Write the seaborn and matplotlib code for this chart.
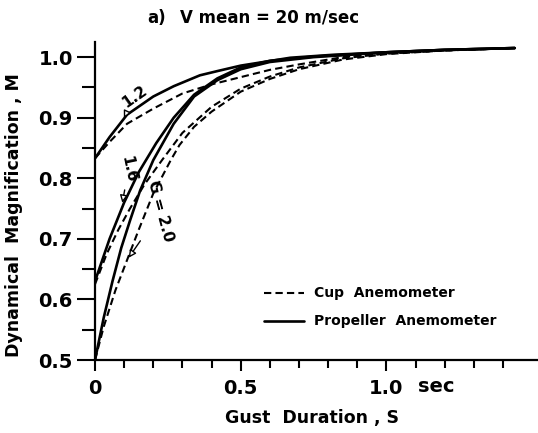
import numpy as np
import pandas as pd
import matplotlib
matplotlib.use("Agg")
import matplotlib.pyplot as plt
import seaborn as sns
from matplotlib.lines import Line2D

# Propeller anemometer (solid)
prop_x_12 = [0.0, 0.05, 0.11, 0.20, 0.27, 0.36, 0.42, 0.50, 0.67, 0.82, 1.0, 1.2, 1.44]
prop_y_12 = [0.833, 0.868, 0.905, 0.935, 0.952, 0.970, 0.977, 0.986, 0.999, 1.004, 1.008, 1.012, 1.015]
prop_x_16 = [0.0, 0.05, 0.10, 0.15, 0.21, 0.27, 0.34, 0.42, 0.50, 0.60, 0.75, 1.0, 1.2, 1.44]
prop_y_16 = [0.630, 0.700, 0.760, 0.810, 0.858, 0.900, 0.938, 0.965, 0.983, 0.994, 1.001, 1.008, 1.012, 1.015]
prop_x_20 = [0.0, 0.03, 0.06, 0.09, 0.12, 0.155, 0.20, 0.27, 0.34, 0.42, 0.50, 0.60, 0.75, 1.0, 1.2, 1.44]
prop_y_20 = [0.500, 0.570, 0.630, 0.685, 0.730, 0.780, 0.830, 0.890, 0.935, 0.962, 0.980, 0.992, 1.000, 1.008, 1.012, 1.015]

# Cup anemometer (dashed)
cup_x_12 = [0.0, 0.05, 0.11, 0.20, 0.30, 0.40, 0.50, 0.60, 0.70, 0.85, 1.0, 1.2, 1.44]
cup_y_12 = [0.833, 0.860, 0.890, 0.915, 0.940, 0.955, 0.967, 0.979, 0.988, 1.000, 1.006, 1.011, 1.015]
cup_x_16 = [0.0, 0.04, 0.08, 0.12, 0.17, 0.23, 0.30, 0.40, 0.50, 0.60, 0.70, 0.85, 1.0, 1.2, 1.44]
cup_y_16 = [0.625, 0.675, 0.715, 0.750, 0.790, 0.830, 0.875, 0.918, 0.948, 0.968, 0.983, 0.998, 1.006, 1.011, 1.015]
cup_x_20 = [0.0, 0.03, 0.07, 0.11, 0.15, 0.20, 0.26, 0.29, 0.34, 0.40, 0.50, 0.60, 0.70, 0.85, 1.0, 1.2, 1.44]
cup_y_20 = [0.500, 0.555, 0.615, 0.665, 0.715, 0.775, 0.830, 0.855, 0.885, 0.910, 0.943, 0.964, 0.980, 0.996, 1.005, 1.011, 1.015]

x_tick_vals = [0.0, 0.5, 1.0]
x_tick_labels = ["0", "0.5", "1.0"]
y_tick_vals = [0.5, 0.6, 0.7, 0.8, 0.9, 1.0]
y_tick_labels = ["0.5", "0.6", "0.7", "0.8", "0.9", "1.0"]

sns.set_theme(style="white")
plt.rcParams['font.family'] = ['DejaVu Sans']
for k in ["text.color", "axes.labelcolor", "xtick.color", "ytick.color", "axes.edgecolor"]:
    plt.rcParams[k] = "black"

fig = plt.figure(figsize=(5.38, 4.33), dpi=100)
ax = fig.add_axes([95/538, 1-360/433, 1-95/538, (360-42)/433])

for xs, ys in [(prop_x_12, prop_y_12), (prop_x_16, prop_y_16), (prop_x_20, prop_y_20)]:
    sns.lineplot(x=xs, y=ys, ax=ax, color="black", lw=1.9, sort=False)
for xs, ys in [(cup_x_12, cup_y_12), (cup_x_16, cup_y_16), (cup_x_20, cup_y_20)]:
    l = sns.lineplot(x=xs, y=ys, ax=ax, color="black", lw=1.5, sort=False)
    l.lines[-1].set_dashes((3.5, 2))

ax.set_xlim(0, 1.52)
ax.set_ylim(0.5, 1.025)
for s in ["top", "right"]:
    ax.spines[s].set_visible(False)
for s in ["left", "bottom"]:
    ax.spines[s].set_color("black")
    ax.spines[s].set_linewidth(1.6)

ax.set_xticks(np.arange(0, 1.41, 0.1), minor=True)
ax.set_xticks(x_tick_vals)
ax.set_xticklabels(x_tick_labels, fontsize=14, fontweight="bold")
ax.set_yticks(np.arange(0.55, 1.0, 0.1), minor=True)
ax.set_yticks(y_tick_vals)
ax.set_yticklabels(y_tick_labels, fontsize=14, fontweight="bold")
ax.tick_params(axis="both", which="both", direction="out", color="black", width=1.5,
               bottom=True, left=True)
ax.tick_params(axis="y", which="major", length=13, pad=3)
ax.tick_params(axis="y", which="minor", length=9.5)
ax.tick_params(axis="x", which="major", length=8, pad=6)
ax.tick_params(axis="x", which="minor", length=5.5)
fig.text(418/538, 1-392/433, "sec", fontsize=14, fontweight="bold", ha="left", va="baseline")

ax.set_xlabel("Gust  Duration , S", fontsize=12.5, fontweight="bold", va="center")
ax.set_ylabel("Dynamical  Magnification , M", fontsize=12.5, fontweight="bold", va="center")
ax.xaxis.set_label_coords((312-95)/(538-95), -(418-360)/318)
ax.yaxis.set_label_coords(-(95-14)/443, (360-215)/318)
fig.text(147/538, 1-18/433, "a)", fontsize=12, fontweight="bold", ha="left", va="center")
fig.text(180/538, 1-18/433, "V mean = 20 m/sec", fontsize=12, fontweight="bold", ha="left", va="center")

# annotations
ax.annotate("1.2", xy=(0.095, 0.895), xytext=(0.135, 0.935), fontsize=11, fontweight="bold",
            rotation=35, ha="center", va="center",
            arrowprops=dict(arrowstyle="-|>", color="black", lw=1, fc="white"))
ax.annotate("1.6", xy=(0.092, 0.755), xytext=(0.115, 0.815), fontsize=11, fontweight="bold",
            rotation=-78, ha="center", va="center",
            arrowprops=dict(arrowstyle="-|>", color="black", lw=1, fc="white"))
ax.annotate("G = 2.0", xy=(0.11, 0.665), xytext=(0.225, 0.745), fontsize=11, fontweight="bold",
            rotation=-75, ha="center", va="center",
            arrowprops=dict(arrowstyle="-|>", color="black", lw=1, fc="white"))

# legend
handles = [Line2D([], [], color="black", lw=1.5, dashes=(3.5, 2)),
           Line2D([], [], color="black", lw=1.9)]
ax.legend(handles, ["Cup  Anemometer", "Propeller  Anemometer"], loc="upper left",
          bbox_to_anchor=((251-95)/443, 1-(274-42)/318), frameon=False,
          prop=dict(size=10, weight="bold"), handlelength=2.9, handletextpad=0.7,
          labelspacing=1.0)

fig.savefig("out.png", dpi=100)
